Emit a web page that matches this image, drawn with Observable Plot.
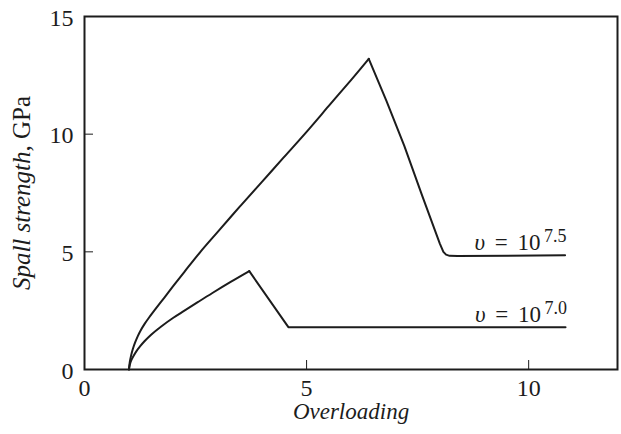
<!DOCTYPE html>
<html>
<head>
<meta charset="utf-8">
<script src="https://cdn.jsdelivr.net/npm/d3@7"></script>
<script src="https://cdn.jsdelivr.net/npm/@observablehq/plot@0.6"></script>
<style>
  html, body { margin: 0; padding: 0; background: #fff; }
  svg { display: block; }
  svg text { font-family: "Liberation Serif", "Times New Roman", serif; }
</style>
</head>
<body>
<div id="chart"></div>
<script>
// Overloading (x) vs spall strength (y, GPa)
const upperX = [1.0, 1.02, 1.05, 1.09, 1.14, 1.2, 1.27, 1.35, 1.45, 1.57, 1.7, 1.85, 2.0, 2.25, 2.61, 3.0, 3.5, 4.0, 4.48, 5.0, 5.5, 6.0, 6.4, 6.8, 7.2, 7.6, 8.0, 8.08, 8.14, 8.22, 8.4, 10.82];
const upperY = [0, 0.32, 0.6, 0.88, 1.15, 1.42, 1.68, 1.93, 2.2, 2.5, 2.82, 3.18, 3.55, 4.15, 5.0, 5.85, 6.93, 7.98, 9.0, 10.1, 11.2, 12.3, 13.2, 11.4, 9.5, 7.4, 5.35, 5.0, 4.88, 4.83, 4.82, 4.85];
const lowerX = [1.0, 1.02, 1.05, 1.1, 1.17, 1.25, 1.35, 1.5, 1.72, 2.0, 2.25, 2.55, 2.88, 3.3, 3.71, 4.59, 10.83];
const lowerY = [0, 0.2, 0.38, 0.56, 0.78, 0.98, 1.2, 1.48, 1.82, 2.2, 2.5, 2.86, 3.25, 3.73, 4.18, 1.8, 1.8];
const seriesNames = ["7.5", "7.0"];
const xTicks = [0, 5, 10];
const yTicks = [0, 5, 10, 15];
const xInnerTicks = [5, 10];
const yInnerTicks = [5, 10];

function toRows(name, xs, ys) {
  const peak = d3.maxIndex(ys);
  return xs.map((x, i) => ({series: name, x, y: ys[i], rising: i <= peak, falling: i >= peak}));
}
const rows = [...toRows(seriesNames[0], upperX, upperY), ...toRows(seriesNames[1], lowerX, lowerY)];
const labels = [
  {series: seriesNames[0], x: upperX[upperX.length - 1], y: upperY[upperY.length - 1]},
  {series: seriesNames[1], x: lowerX[lowerX.length - 1], y: lowerY[lowerY.length - 1]}
];

const ink = "#1c1c1c";
const font = "Liberation Serif, Times New Roman, serif";

const chart = Plot.plot({
  width: 621,
  height: 434,
  marginLeft: 84,
  marginRight: 4,
  marginTop: 16,
  marginBottom: 65,
  style: {fontFamily: font, color: ink, background: "#fff"},
  x: {domain: [0, 12]},
  y: {domain: [0, 15]},
  marks: [
    Plot.axisX({ticks: xTicks, tickSize: 0, tickPadding: 9, fontSize: 24, label: "Overloading", labelAnchor: "center", labelArrow: "none", labelOffset: 49}),
    Plot.axisX({ticks: xInnerTicks, tickSize: -9, text: null, label: null, stroke: ink}),
    Plot.axisY({ticks: yTicks, tickSize: 0, tickPadding: 11, fontSize: 24, dy: 1.5, label: "Spall strength, GPa", labelAnchor: "center", labelArrow: "none", labelOffset: 72}),
    Plot.axisY({ticks: yInnerTicks, tickSize: -9, text: null, label: null, stroke: ink}),
    Plot.frame({stroke: ink, strokeWidth: 2}),
    Plot.line(rows, {filter: "rising", x: "x", y: "y", z: "series", stroke: ink, strokeWidth: 2, curve: "catmull-rom"}),
    Plot.line(rows, {filter: "falling", x: "x", y: "y", z: "series", stroke: ink, strokeWidth: 2}),
    Plot.text(labels, {x: "x", y: "y", text: d => "υ = 10", textAnchor: "end", dx: -24.5, dy: -12.4, fontSize: 23, fill: ink}),
    Plot.text(labels, {x: "x", y: "y", text: d => d.series, textAnchor: "end", dx: 1.5, dy: -18.8, fontSize: 18, fill: ink})
  ]
});

document.getElementById("chart").appendChild(chart);

// style rich text (italic parts)
d3.select(chart).selectAll("text").each(function() {
  const t = d3.select(this);
  t.style("font-family", font);
  const s = this.textContent;
  if (s === "Overloading") {
    t.style("font-style", "italic").style("font-size", "23px");
  } else if (s === "Spall strength, GPa") {
    t.text(null).style("font-size", "25px");
    t.append("tspan").style("font-style", "italic").text("Spall strength");
    t.append("tspan").text(", GPa");
  } else if (s === "υ = 10") {
    t.text(null);
    t.append("tspan").style("font-style", "italic").text("υ");
    t.append("tspan").attr("dx", 4).text(" =");
    t.append("tspan").attr("dx", 4).text(" 10");
  }
});
</script>
</body>
</html>
